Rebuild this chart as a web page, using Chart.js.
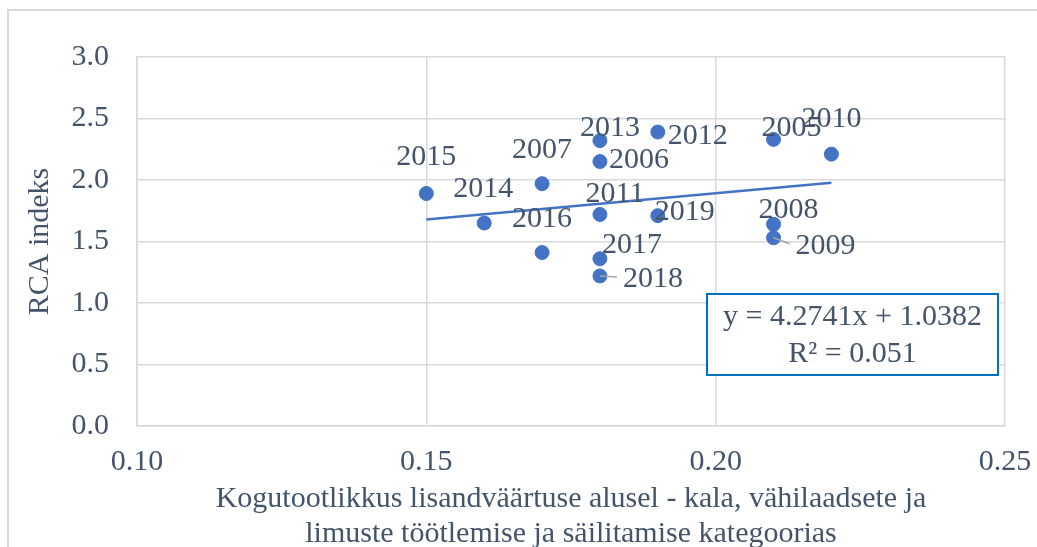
<!DOCTYPE html>
<html>
<head>
<meta charset="utf-8">
<script src="https://cdn.jsdelivr.net/npm/chart.js@4"></script>
<style>
  html, body { margin: 0; padding: 0; background: #ffffff; }
  #wrap { width: 1037px; height: 547px; position: relative; }
</style>
</head>
<body>
<div id="wrap"><canvas id="rca_chart_cnv"></canvas></div>
<script>
// data
const years = ["2005", "2006", "2007", "2008", "2009", "2010", "2011", "2012", "2013", "2014", "2015", "2016", "2017", "2018", "2019"];
const tfp_values = [0.21, 0.18, 0.17, 0.21, 0.21, 0.22, 0.18, 0.19, 0.18, 0.16, 0.15, 0.17, 0.18, 0.18, 0.19];
const rca_values = [2.33, 2.15, 1.97, 1.64, 1.53, 2.21, 1.72, 2.39, 2.32, 1.65, 1.89, 1.41, 1.36, 1.22, 1.71];
const x_ticks = [0.10, 0.15, 0.20, 0.25];
const y_ticks = [0.0, 0.5, 1.0, 1.5, 2.0, 2.5, 3.0];
const trend_slope = 4.2741;
const trend_intercept = 1.0382;
const trend_lines = ["y = 4.2741x + 1.0382", "R\u00b2 = 0.051"];
const y_title = "RCA indeks";
const x_title = ["Kogutootlikkus lisandväärtuse alusel - kala, vähilaadsete ja", "limuste töötlemise ja säilitamise kategoorias"];

const text_color = "#44546A";
const blue = "#4472C4";
const grid_color = "#d9d9d9";
const serif = "'Liberation Serif', 'Times New Roman', serif";

// label placement (offset of the digit centre from the point), like Excel put them
const label_offsets = {
    "2005": [18, -13], "2006": [39, -4], "2007": [0, -36], "2008": [15, -16],
    "2009": [52, 6, true], "2010": [0, -37], "2011": [15, -22], "2012": [40, 2],
    "2013": [10, -15], "2014": [-1, -36], "2015": [0, -39], "2016": [0, -36],
    "2017": [32, -16], "2018": [53, 1, true], "2019": [27, -6]
};

const scatter_points = tfp_values.map((x, i) => ({x: x, y: rca_values[i]}));
const trend_x = [Math.min(...tfp_values), Math.max(...tfp_values)];
const trend_points = trend_x.map(x => ({x: x, y: trend_slope * x + trend_intercept}));

const frame_plugin = {
    id: "frame",
    beforeDraw(chart) {
        const ctx = chart.ctx;
        ctx.save();
        ctx.strokeStyle = grid_color;
        ctx.lineWidth = 2;
        ctx.beginPath();
        ctx.moveTo(8, 547);
        ctx.lineTo(8, 10);
        ctx.lineTo(1037, 10);
        ctx.stroke();
        ctx.restore();
    }
};

const labels_plugin = {
    id: "year_labels",
    afterDatasetsDraw(chart) {
        const ctx = chart.ctx;
        const meta = chart.getDatasetMeta(0);
        ctx.save();
        ctx.font = "30px " + serif;
        ctx.fillStyle = text_color;
        ctx.textAlign = "center";
        ctx.textBaseline = "alphabetic";
        meta.data.forEach((pt, i) => {
            const off = label_offsets[years[i]];
            const cx = pt.x + off[0];
            const cy = pt.y + off[1];
            if (off[2]) {
                const w = ctx.measureText(years[i]).width;
                ctx.strokeStyle = "#a6a6a6";
                ctx.lineWidth = 1.5;
                ctx.beginPath();
                ctx.moveTo(pt.x, pt.y);
                ctx.lineTo(cx - w / 2 - 6, cy);
                ctx.stroke();
            }
            ctx.fillText(years[i], cx, cy + 10);
        });

        // equation box
        const bx = 707, by = 294, bw = 291, bh = 81;
        ctx.fillStyle = "#ffffff";
        ctx.fillRect(bx, by, bw, bh);
        ctx.strokeStyle = "#0070C0";
        ctx.lineWidth = 2;
        ctx.strokeRect(bx, by, bw, bh);
        ctx.fillStyle = text_color;
        ctx.fillText(trend_lines[0], bx + bw / 2, 315 + 10);
        ctx.fillText(trend_lines[1], bx + bw / 2, 352 + 10);
        ctx.restore();
    }
};

const rca_chart = new Chart(document.getElementById("rca_chart_cnv").getContext("2d"), {
    "type": "scatter",
    "data": {
        "datasets": [{
            "label": "RCA",
            "data": scatter_points,
            "backgroundColor": blue,
            "borderColor": blue,
            "pointRadius": 7,
            "pointHoverRadius": 7,
            "order": 1
        }, {
            "label": "Trend",
            "type": "line",
            "data": trend_points,
            "borderColor": blue,
            "borderWidth": 2.5,
            "pointRadius": 0,
            "fill": false,
            "order": 0
        }]
    },
    "options": {
        "responsive": true,
        "maintainAspectRatio": false,
        "animation": false,
        "layout": {"padding": {"top": 57, "right": 32, "left": 0, "bottom": 0}},
        "plugins": {
            "legend": {"display": false},
            "tooltip": {"enabled": false}
        },
        "scales": {
            "x": {
                "type": "linear",
                "min": x_ticks[0],
                "max": x_ticks[x_ticks.length - 1],
                "afterBuildTicks": (scale) => { scale.ticks = x_ticks.map(v => ({value: v})); },
                "afterFit": (scale) => {
                    scale.height = 121;
                    scale.paddingLeft = 0;
                    scale.paddingRight = 0;
                },
                "ticks": {
                    "color": text_color,
                    "font": {"family": serif, "size": 30},
                    "padding": 18,
                    "maxRotation": 0,
                    "callback": (v) => Number(v).toFixed(2)
                },
                "grid": {"color": grid_color, "lineWidth": 1.5, "drawTicks": false},
                "border": {"color": grid_color, "width": 1.5},
                "title": {
                    "display": true,
                    "text": x_title,
                    "color": text_color,
                    "font": {"family": serif, "size": 30, "lineHeight": 1.17},
                    "padding": {"top": 0, "bottom": -5}
                }
            },
            "y": {
                "type": "linear",
                "min": y_ticks[0],
                "max": y_ticks[y_ticks.length - 1],
                "afterBuildTicks": (scale) => { scale.ticks = y_ticks.map(v => ({value: v})); },
                "afterFit": (scale) => {
                    scale.width = 137;
                    scale.paddingTop = 0;
                    scale.paddingBottom = 0;
                },
                "ticks": {
                    "color": text_color,
                    "font": {"family": serif, "size": 30},
                    "padding": 28,
                    "callback": (v) => Number(v).toFixed(1)
                },
                "grid": {"color": grid_color, "lineWidth": 1.5, "drawTicks": false},
                "border": {"color": grid_color, "width": 1.5},
                "title": {
                    "display": true,
                    "text": y_title,
                    "color": text_color,
                    "font": {"family": serif, "size": 30, "lineHeight": 1.2},
                    "padding": {"top": 22, "bottom": 0}
                }
            }
        }
    },
    "plugins": [frame_plugin, labels_plugin]
});
</script>
</body>
</html>
